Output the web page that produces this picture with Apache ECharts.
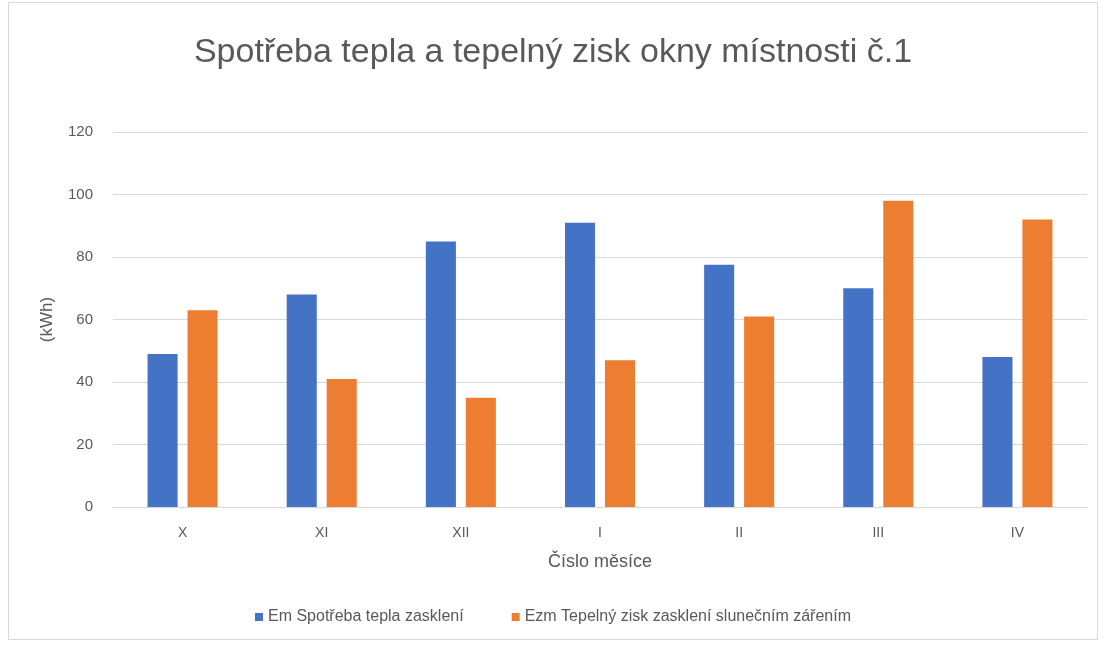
<!DOCTYPE html>
<html>
<head>
<meta charset="utf-8">
<script src="https://cdn.jsdelivr.net/npm/echarts@6/dist/echarts.min.js"></script>
<style>
  html,body{margin:0;padding:0;background:#fff;}
  #chart{width:1106px;height:646px;}
</style>
</head>
<body>
<div id="chart"></div>
<script>
// měsíce topného období
const months = ['X', 'XI', 'XII', 'I', 'II', 'III', 'IV']
// Em - spotřeba tepla zasklení (kWh)
const emValues = [49, 68, 85, 91, 77.5, 70, 48]
// Ezm - tepelný zisk slunečním zářením (kWh)
const ezmValues = [63, 41, 35, 47, 61, 98, 92]
const seriesNames = ['Em Spotřeba tepla zasklení', 'Ezm Tepelný zisk zasklení slunečním zářením']

const chart = echarts.init(document.getElementById('chart'))
const font = 'Liberation Sans, Arial, sans-serif'
let option = {
  backgroundColor: '#fff',
  textStyle: { fontFamily: font },
  title: {
    text: 'Spotřeba tepla a tepelný zisk okny místnosti č.1',
    left: 'center',
    top: 31,
    textStyle: { fontSize: 34, fontWeight: 'normal', color: '#595959', fontFamily: font }
  },
  graphic: [{
    type: 'rect',
    shape: { x: 8.5, y: 2.5, width: 1089, height: 637 },
    style: { fill: 'none', stroke: '#d9d9d9', lineWidth: 1 },
    silent: true
  }],
  grid: { left: 113, right: 19, top: 132, bottom: 139 },
  legend: {
    bottom: 16,
    left: 'center',
    itemWidth: 8,
    itemHeight: 8,
    itemGap: 48,
    icon: 'rect',
    textStyle: { fontSize: 16, color: '#595959' },
    data: seriesNames
  },
  xAxis: {
    type: 'category',
    data: months,
    name: 'Číslo měsíce',
    nameLocation: 'middle',
    nameGap: 46,
    nameTextStyle: { fontSize: 18, color: '#595959' },
    axisLine: { lineStyle: { color: '#d9d9d9' } },
    axisTick: { show: false },
    axisLabel: { fontSize: 14, color: '#595959', margin: 19 }
  },
  yAxis: {
    type: 'value',
    min: 0,
    max: 120,
    interval: 20,
    name: '(kWh)',
    nameLocation: 'middle',
    nameGap: 57,
    nameTextStyle: { fontSize: 17, color: '#595959' },
    axisLine: { show: false },
    axisTick: { show: false },
    axisLabel: { fontSize: 15, color: '#595959', margin: 20 },
    splitLine: { lineStyle: { color: '#d9d9d9' } }
  },
  series: [
    {
      name: seriesNames[0],
      type: 'bar',
      data: emValues,
      barWidth: '21.6%',
      barGap: '33%',
      itemStyle: { color: '#4472C4' }
    },
    {
      name: seriesNames[1],
      type: 'bar',
      data: ezmValues,
      barWidth: '21.6%',
      itemStyle: { color: '#ED7D31' }
    }
  ]
}
chart.setOption(option)
</script>
</body>
</html>
